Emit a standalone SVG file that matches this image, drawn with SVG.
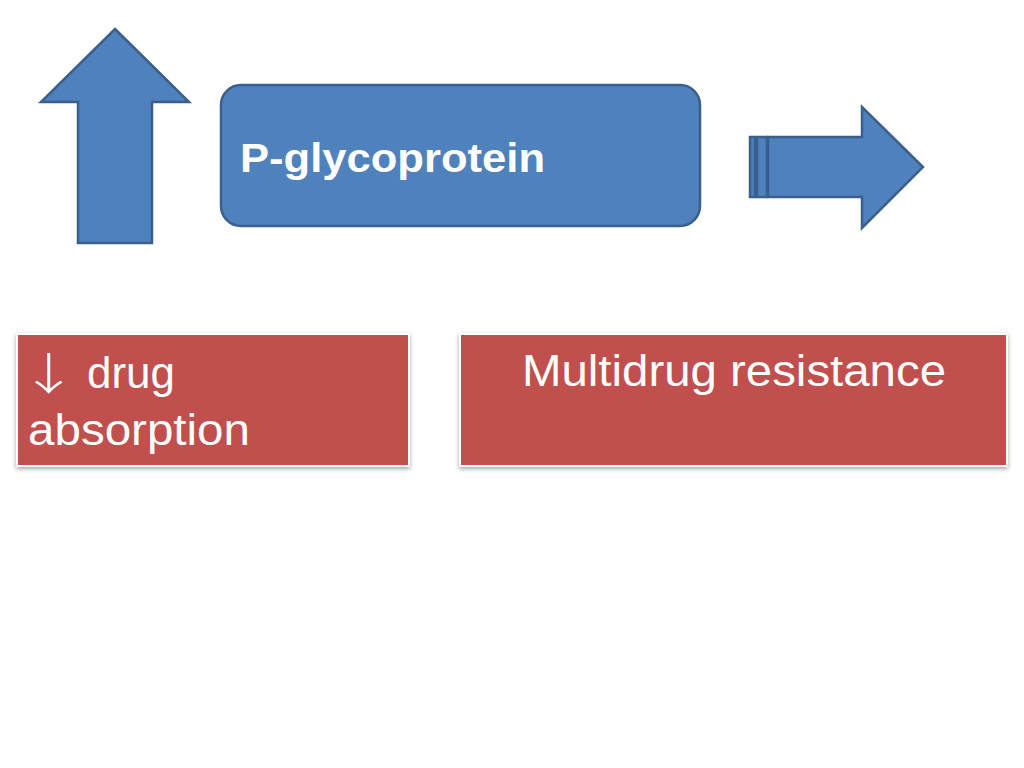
<svg xmlns="http://www.w3.org/2000/svg" width="1024" height="768" viewBox="0 0 1024 768">
<defs>
<style>
.blue{fill:#4F81BD;stroke:#3A5F8D;stroke-width:2.5;stroke-linejoin:miter}
.red{fill:#C0504D;stroke:#FFFFFF;stroke-width:2}
.wt{fill:#FFFFFF;font-family:"Liberation Sans",Arial,sans-serif}
.cjk{fill:#FFFFFF;font-family:"Noto Sans CJK SC",sans-serif;font-weight:300}
</style>
<filter id="sh" x="-5%" y="-5%" width="110%" height="115%">
<feDropShadow dx="0" dy="2" stdDeviation="2" flood-color="#000" flood-opacity="0.35"/>
</filter>
</defs>
<rect width="1024" height="768" fill="#FFFFFF"/>
<g id="connectors">
<path id="up-arrow" class="blue" d="M115,29 L189,102 L152,102 L152,243 L78,243 L78,102 L41,102 Z"/>
<g id="right-arrow">
<rect class="blue" x="750" y="137" width="5" height="60" stroke-width="1.5"/>
<rect class="blue" x="757" y="137" width="10" height="60" stroke-width="1.5"/>
<path class="blue" d="M768,137 L862,137 L862,107 L923,167 L862,228 L862,197 L768,197 Z"/>
</g>
</g>
<g id="pgp">
<rect class="blue" x="221" y="85" width="479" height="141" rx="20" ry="20"/>
<text class="wt" x="240" y="172" font-size="41" font-weight="bold" textLength="305" lengthAdjust="spacingAndGlyphs">P-glycoprotein</text>
</g>
<g id="absorption">
<rect class="red" x="17" y="334" width="392" height="132" filter="url(#sh)"/>
<text class="cjk" transform="translate(19,390) scale(1.35,1)" font-size="44">↓</text>
<text class="wt" x="87" y="388" font-size="44">drug</text>
<text class="wt" x="28" y="445" font-size="44" textLength="222" lengthAdjust="spacingAndGlyphs">absorption</text>
</g>
<g id="mdr">
<rect class="red" x="460" y="334" width="547" height="132" filter="url(#sh)"/>
<text class="wt" x="522" y="386" font-size="44" textLength="424" lengthAdjust="spacingAndGlyphs">Multidrug resistance</text>
</g>
</svg>
